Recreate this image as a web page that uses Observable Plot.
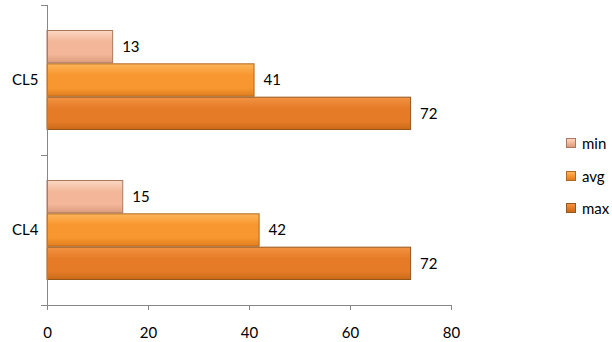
<!DOCTYPE html>
<html><head><meta charset="utf-8">
<script src="https://cdn.jsdelivr.net/npm/d3@7"></script>
<script src="https://cdn.jsdelivr.net/npm/@observablehq/plot@0.6"></script>
<style>
body{margin:0;background:#fff;font-family:Lato,"Open Sans",sans-serif}
#wrap{position:relative;width:612px;height:342px}
#legend{position:absolute;left:566px;top:134px;font:15px Lato,sans-serif;color:#000}
.item{display:flex;align-items:center;height:18px;margin-bottom:14.5px}
.sw{width:8px;height:8px;margin-right:6px;border:1px solid}
</style></head><body><div id="wrap"><div id="legend"></div></div>
<script>
const categories = ["CL5", "CL4"];          // top to bottom
const series = ["min", "avg", "max"];       // top to bottom within a group
const minValues = [13, 15];
const avgValues = [41, 42];
const maxValues = [72, 72];
const xTicks = [0, 20, 40, 60, 80];

const seriesValues = {min: minValues, avg: avgValues, max: maxValues};
const grad = {
  min: ["#fbd8c3", "#f3b698", "#dc9a7c"],
  avg: ["#fdb55a", "#f8962f", "#df7d1f"],
  max: ["#f39343", "#e57b27", "#c96a19"]
};
const border = {min: "#a9785f", avg: "#b0671f", max: "#95561c"};

const nCat = categories.length;
const bandH = 2 / 3 / series.length;
const data = [];
categories.forEach((cat, i) => {
  const c = nCat - 1 - i;
  series.forEach((s, j) => {
    const y2 = c + 5 / 6 - j * bandH;
    data.push({category: cat, series: s, value: seriesValues[s][i], y1: y2 - bandH, y2});
  });
});

const axisColor = "#868686";
const chart = Plot.plot({
  width: 612, height: 342,
  marginLeft: 47, marginRight: 161, marginTop: 5, marginBottom: 37,
  x: {domain: [0, 80]},
  y: {domain: [0, nCat]},
  color: {type: "identity"},
  style: {fontFamily: "Lato, sans-serif", fontSize: "15px", color: "#000", background: "#fff"},
  marks: [
    Plot.rectX(data, {
      x1: 0, x2: "value", y1: "y1", y2: "y2",
      fill: d => `url(#g-${d.series})`,
      stroke: d => border[d.series], strokeWidth: 1,
      insetTop: 0.5, insetBottom: 0.5
    }),
    Plot.text(data, {
      x: "value", y: d => (d.y1 + d.y2) / 2, text: d => String(d.value),
      textAnchor: "start", dx: 9, fill: "#000"
    }),
    Plot.ruleX([0], {stroke: axisColor}),
    Plot.ruleY([0], {stroke: axisColor}),
    Plot.axisX({ticks: xTicks, tickSize: 5, tickPadding: 17, stroke: axisColor, label: null, tickFormat: d => String(d)}),
    Plot.axisY({ticks: d3.range(nCat + 1), tickSize: 6, tickFormat: () => "", stroke: axisColor, label: null}),
    Plot.axisY({ticks: d3.range(nCat).map(k => k + 0.5), tickSize: 0, tickPadding: 9,
      tickFormat: v => categories[nCat - 1 - Math.floor(v)], label: null})
  ]
});

// gradients
const svgns = "http://www.w3.org/2000/svg";
const defs = document.createElementNS(svgns, "defs");
for (const s of series) {
  const g = document.createElementNS(svgns, "linearGradient");
  g.setAttribute("id", `g-${s}`);
  g.setAttribute("x1", 0); g.setAttribute("y1", 0); g.setAttribute("x2", 0); g.setAttribute("y2", 1);
  [[0, grad[s][0]], [0.35, grad[s][1]], [0.75, grad[s][1]], [1, grad[s][2]]].forEach(([o, c]) => {
    const st = document.createElementNS(svgns, "stop");
    st.setAttribute("offset", o); st.setAttribute("stop-color", c);
    g.appendChild(st);
  });
  defs.appendChild(g);
}
chart.insertBefore(defs, chart.firstChild);
document.getElementById("wrap").prepend(chart);

// legend
const legend = document.getElementById("legend");
for (const s of series) {
  const it = document.createElement("div");
  it.className = "item";
  const sw = document.createElement("span");
  sw.className = "sw";
  sw.style.background = `linear-gradient(${grad[s][0]}, ${grad[s][1]}, ${grad[s][2]})`;
  sw.style.borderColor = border[s];
  const t = document.createElement("span");
  t.textContent = s;
  it.append(sw, t);
  legend.appendChild(it);
}
</script></body></html>
